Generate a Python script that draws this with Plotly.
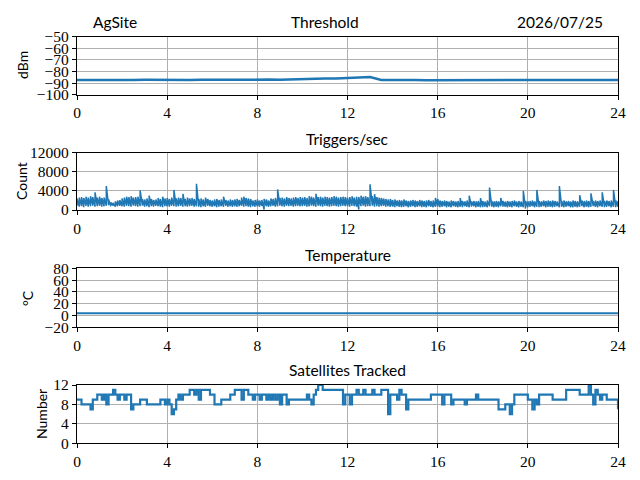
import plotly.graph_objects as go
from plotly.subplots import make_subplots

# hours of day, 0.1 h step for the dense series
hours = [i / 10 for i in range(241)]
hours_half = [i / 2 for i in range(49)]
hours_full = list(range(25))

threshold = [
    -87.3, -87.4, -87.2, -87.3, -87.5, -87.3, -87.2, -87.4, -87.3, -87.3,
    -87.4, -87.2, -87.1, -87.0, -87.2, -87.3, -87.1, -87.0, -87.2, -86.9,
    -86.3, -86.2, -86.0, -86.1, -85.8, -84.9, -84.8, -87.4, -87.6, -87.5,
    -87.4, -87.5, -87.4, -87.5, -87.3, -87.6, -87.4, -87.5, -87.4, -87.3,
    -87.4, -87.3, -87.5, -87.3, -87.2, -87.4, -87.3, -87.3, -87.4,
]

# triggers/sec: highest and lowest reading in each 0.1 h slot
triggers_high = [
    2400, 2600, 2700, 2500, 2800, 2600, 2900, 2700, 3700, 2600,
    2800, 2500, 2600, 5000, 2200, 1600, 1500, 1800, 2000, 2100,
    2400, 2600, 2800, 2700, 2900, 2600, 2700, 2800, 4100, 2300,
    2200, 2400, 3000, 2300, 2100, 2200, 2500, 2300, 2800, 2400,
    2500, 2300, 2600, 4200, 2400, 2600, 2500, 3400, 2300, 2600,
    2400, 2500, 2300, 5500, 2300, 2400, 2200, 2600, 2300, 2100,
    2000, 2200, 2300, 2100, 2200, 2800, 2100, 2000, 2200, 2100,
    2200, 2300, 2100, 2600, 2800, 2500, 2400, 2300, 2000, 2100,
    2200, 2000, 2100, 2300, 2200, 2000, 2400, 2300, 2500, 4300,
    2500, 2600, 2400, 2700, 2500, 2400, 2600, 2700, 2500, 2700,
    2600, 2700, 2500, 2900, 2800, 2600, 3400, 2700, 2800, 2600,
    2800, 2700, 2600, 2700, 2900, 2800, 2600, 2700, 2800, 2700,
    2600, 2700, 2900, 2600, 2800, 2700, 3000, 2800, 2900, 2700,
    5400, 2900, 3300, 2700, 2600, 2500, 2400, 2300, 2200, 2300,
    2100, 2200, 2000, 2100, 2000, 2200, 2000, 1900, 2000, 2100,
    2000, 1900, 2100, 2000, 1900, 2000, 2100, 1900, 2000, 2500,
    2300, 2000, 1900, 2000, 1900, 1800, 2000, 1900, 1800, 1900,
    2500, 1900, 1800, 2000, 3000, 1800, 1900, 1800, 1900, 2500,
    1900, 1800, 2000, 4700, 1900, 1800, 1900, 1800, 2500, 1900,
    1800, 1900, 1800, 1900, 2000, 1800, 1900, 1800, 4000, 1900,
    1800, 1900, 2000, 1800, 4200, 1900, 1800, 2000, 1900, 2000,
    1900, 2000, 1900, 1800, 5000, 1900, 2000, 1800, 1900, 1800,
    2000, 1900, 1800, 3100, 2000, 1900, 2000, 1900, 3500, 1900,
    2000, 1900, 2000, 3700, 1900, 2000, 1900, 2000, 4200, 2000,
    1900,
]

triggers_low = [
    900, 700, 800, 600, 900, 700, 800, 900, 700, 800,
    900, 700, 800, 900, 1000, 800, 900, 700, 800, 900,
    800, 700, 900, 800, 700, 900, 800, 700, 800, 900,
    700, 800, 600, 800, 700, 900, 800, 700, 600, 800,
    800, 700, 900, 800, 700, 800, 900, 700, 800, 700,
    800, 900, 700, 800, 700, 600, 800, 700, 900, 800,
    700, 800, 600, 700, 800, 700, 900, 700, 800, 700,
    800, 700, 800, 900, 700, 800, 700, 600, 800, 700,
    800, 700, 900, 100, 800, 700, 800, 900, 700, 800,
    900, 800, 700, 900, 800, 900, 700, 800, 900, 800,
    800, 900, 700, 800, 900, 800, 700, 900, 800, 700,
    900, 800, 700, 800, 900, 800, 700, 800, 900, 800,
    800, 700, 900, 800, 700, 100, 800, 900, 700, 800,
    800, 900, 700, 800, 700, 800, 900, 700, 800, 700,
    700, 600, 800, 700, 600, 700, 800, 600, 700, 800,
    600, 700, 800, 600, 700, 600, 800, 700, 600, 700,
    700, 600, 700, 800, 600, 700, 600, 800, 700, 600,
    700, 600, 800, 700, 600, 700, 800, 600, 700, 600,
    600, 700, 600, 800, 700, 600, 700, 600, 800, 700,
    700, 600, 700, 600, 800, 700, 600, 700, 600, 300,
    600, 700, 800, 600, 700, 600, 700, 800, 600, 700,
    700, 600, 700, 800, 600, 700, 600, 700, 800, 600,
    600, 700, 600, 700, 800, 600, 700, 600, 700, 800,
    700, 600, 800, 700, 600, 700, 800, 600, 700, 600,
    700,
]

temperature = [4, 4, 4, 4, 4, 4, 4, 4, 4, 4, 4, 4, 4,
               4, 4, 4, 4, 4, 4, 4, 4, 4, 4, 4, 4]

satellites = [
    9, 9, 8, 8, 8, 8, 7, 9, 9, 10,
    10, 9, 10, 8, 10, 10, 11, 10, 9, 10,
    10, 9, 10, 10, 7, 8, 8, 8, 9, 9,
    9, 8, 8, 8, 8, 8, 8, 9, 9, 8,
    9, 8, 6, 7, 9, 10, 9, 10, 10, 10,
    11, 11, 10, 11, 9, 11, 11, 11, 11, 10,
    10, 8, 8, 8, 9, 9, 9, 9, 10, 10,
    11, 11, 11, 9, 11, 11, 10, 10, 9, 10,
    10, 9, 10, 10, 9, 10, 9, 10, 9, 10,
    8, 10, 10, 8, 9, 9, 9, 9, 9, 9,
    9, 9, 10, 9, 8, 10, 11, 12, 12, 11,
    11, 11, 11, 11, 11, 11, 11, 11, 8, 10,
    10, 8, 10, 10, 11, 10, 10, 11, 10, 10,
    10, 11, 10, 10, 10, 11, 11, 11, 6, 10,
    10, 10, 9, 11, 10, 10, 7, 9, 9, 9,
    9, 9, 9, 9, 9, 9, 9, 10, 10, 10,
    10, 10, 8, 10, 10, 10, 8, 9, 9, 9,
    9, 9, 8, 9, 9, 9, 9, 10, 9, 9,
    9, 9, 9, 9, 9, 9, 9, 7, 7, 7,
    8, 8, 6, 8, 10, 10, 10, 10, 10, 10,
    9, 9, 7, 9, 8, 10, 10, 10, 10, 10,
    10, 9, 9, 9, 9, 9, 9, 11, 11, 11,
    11, 11, 11, 10, 10, 10, 10, 12, 10, 8,
    11, 10, 9, 10, 10, 9, 9, 9, 9, 9,
    7,
]

blue = "#1f77b4"
W, H = 640, 480

# zigzag low/high inside each slot so the trace reads as a dense band
trig_x, trig_y = [], []
for h, lo, hi in zip(hours, triggers_low, triggers_high):
    trig_x += [h, h]
    trig_y += [lo, hi]

fig = make_subplots(rows=4, cols=1)

fig.add_trace(go.Scatter(x=hours_half, y=threshold, mode="lines",
                         line={"color": blue, "width": 2.5}), row=1, col=1)
fig.add_trace(go.Scatter(x=trig_x, y=trig_y, mode="lines",
                         line={"color": blue, "width": 1.5}), row=2, col=1)
fig.add_trace(go.Scatter(x=hours_full, y=temperature, mode="lines",
                         line={"color": blue, "width": 2}), row=3, col=1)
fig.add_trace(go.Scatter(x=hours, y=satellites, mode="lines", line_shape="hv",
                         line={"color": blue, "width": 2.2}), row=4, col=1)

# panel boxes in pixels (top, bottom)
boxes = [(36.7, 94.7), (152.7, 210), (268.3, 327.3), (385, 443.3)]
yranges = [[-100, -50], [0, 12000], [-20, 80], [0, 12]]
yticks = [list(range(-100, -49, 10)), [0, 4000, 8000, 12000],
          list(range(-20, 81, 20)), [0, 4, 8, 12]]

tickfont = {"family": "Liberation Serif", "size": 15.5, "color": "black"}
axis_attr = {"showline": True, "mirror": True, "linecolor": "black",
             "linewidth": 1.1, "ticks": "outside", "ticklen": 4,
             "tickcolor": "black", "showgrid": True, "gridcolor": "#b0b0b0",
             "gridwidth": 1, "zeroline": False, "tickfont": tickfont,
             "automargin": False}

for i, (top, bot) in enumerate(boxes):
    n = "" if i == 0 else str(i + 1)
    fig.layout["xaxis" + n].update(
        domain=[77 / W, 618 / W], range=[0, 24],
        tickvals=list(range(0, 25, 4)), **axis_attr)
    fig.layout["yaxis" + n].update(
        domain=[1 - bot / H, 1 - top / H], range=yranges[i],
        tickvals=yticks[i], tickformat="d", **axis_attr)

sans = "Lato"
titles = [("AgSite", 115, 22), ("Threshold", 325, 22),
          ("2026/07/25", 560, 22), ("Triggers/sec", 347, 139),
          ("Temperature", 348, 255), ("Satellites Tracked", 347, 370)]
for text, px, py in titles:
    fig.add_annotation(text=text, x=px / W, y=1 - py / H, xref="paper",
                       yref="paper", showarrow=False, xanchor="center",
                       yanchor="middle",
                       font={"family": sans, "size": 15.5, "color": "black"})

ylabels = [("dBm", 23, 65), ("Count", 21, 181), ("°C", 27, 298),
           ("Number", 41, 414)]
for text, px, py in ylabels:
    fig.add_annotation(text=text, x=px / W, y=1 - py / H, xref="paper",
                       yref="paper", showarrow=False, textangle=-90,
                       xanchor="center", yanchor="middle",
                       font={"family": sans, "size": 14, "color": "black"})

fig.update_layout(width=W, height=H, showlegend=False, hovermode=False,
                  margin={"l": 0, "r": 0, "t": 0, "b": 0},
                  paper_bgcolor="white", plot_bgcolor="white")

# drop the page's default body margin so the figure sits at the window corner
fig.write_html("out.html", config={"displayModeBar": False},
               post_script="document.body.style.margin = '0';")
